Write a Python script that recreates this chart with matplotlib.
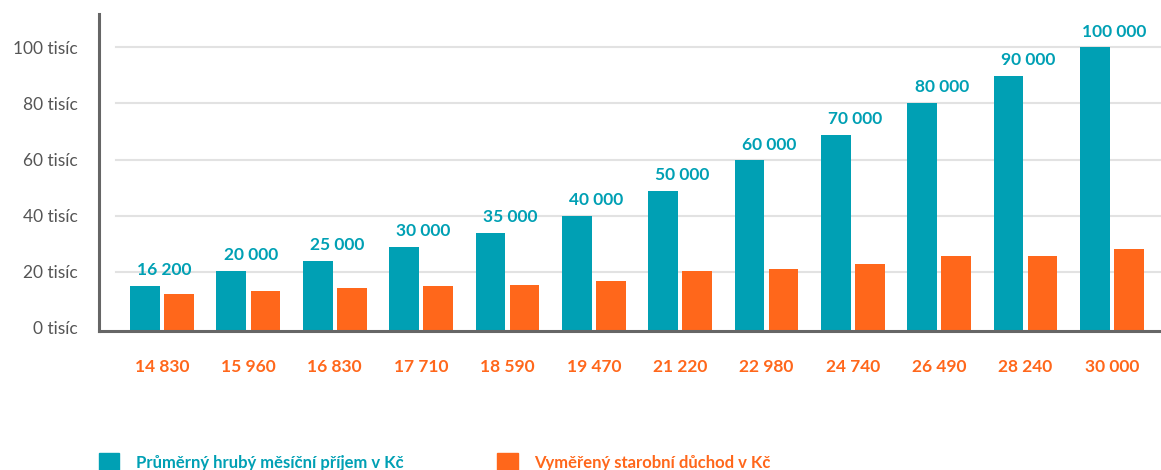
import numpy as np
import matplotlib
matplotlib.use('Agg')
import matplotlib.pyplot as plt
from matplotlib.patches import Patch

plt.rcParams['font.family'] = ['Lato', 'DejaVu Sans']

# data (bar heights as drawn, labels as printed)
duchod_labels = ['14 830', '15 960', '16 830', '17 710', '18 590', '19 470',
                 '21 220', '22 980', '24 740', '26 490', '28 240', '30 000']
prijem = [15000, 20400, 23800, 28900, 33900, 40000,
          48700, 59700, 68700, 80200, 89900, 100000]
prijem_labels = ['16 200', '20 000', '25 000', '30 000', '35 000', '40 000',
                 '50 000', '60 000', '70 000', '80 000', '90 000', '100 000']
duchod = [11900, 13200, 14300, 15000, 15300, 16600,
          20200, 21100, 22700, 25500, 25500, 28000]
y_ticks = [0, 20000, 40000, 60000, 80000, 100000]
y_labels = ['0 tisíc', '20 tisíc', '40 tisíc', '60 tisíc', '80 tisíc', '100 tisíc']
legend_labels = ['Průměrný hrubý měsíční příjem v Kč', 'Vyměřený starobní důchod v Kč']

TEAL = '#00a0b4'
ORANGE = '#ff671b'
GREY = '#666666'

fig = plt.figure(figsize=(11.61, 4.70), dpi=100)
ax = fig.add_axes([0.0853, 0.2947, 0.9147, 0.6755])

x = np.arange(len(prijem))
w = 0.345
off = 0.197
base = -1300  # the bottom axis line sits a little below zero

# grid lines start a bit right of the spine
for t in y_ticks[1:]:
    ax.axhline(t, xmin=0.016, xmax=1, color='#e2e2e2', lw=1.5, zorder=0)

# bars run down to the axis line
ax.bar(x - off, np.array(prijem) - base, w, bottom=base, color=TEAL, zorder=2)
ax.bar(x + off, np.array(duchod) - base, w, bottom=base, color=ORANGE, zorder=2)

for xi, v, lab in zip(x, prijem, prijem_labels):
    ax.text(xi + 0.03, v + 2800, lab, ha='center', va='bottom',
            color=TEAL, fontsize=12.5, fontweight='bold')

ax.set_xlim(-0.73, 11.57)
ax.set_ylim(base, 111900)

ax.set_xticks(x)
ax.set_xticklabels(duchod_labels, color=ORANGE, fontsize=12.5, fontweight='bold')
ax.set_yticks(y_ticks)
ax.set_yticklabels(y_labels, color='#555555', fontsize=12.5)
ax.tick_params(axis='both', length=0)
ax.tick_params(axis='x', pad=20)
ax.tick_params(axis='y', pad=15)

for s in ['top', 'right']:
    ax.spines[s].set_visible(False)
for s in ['left', 'bottom']:
    ax.spines[s].set_color(GREY)
    ax.spines[s].set_linewidth(2.2)
    ax.spines[s].set_zorder(3)

handles = [Patch(color=TEAL), Patch(color=ORANGE)]
leg = fig.legend(handles, legend_labels, loc='center left',
                 bbox_to_anchor=(0.072, 0.017), ncol=2, frameon=False,
                 handlelength=1.25, handleheight=1.25, handletextpad=1.0,
                 columnspacing=5.6, labelcolor=[TEAL, ORANGE],
                 prop={'size': 12, 'weight': 'bold'})

fig.savefig('out.png', dpi=100)
